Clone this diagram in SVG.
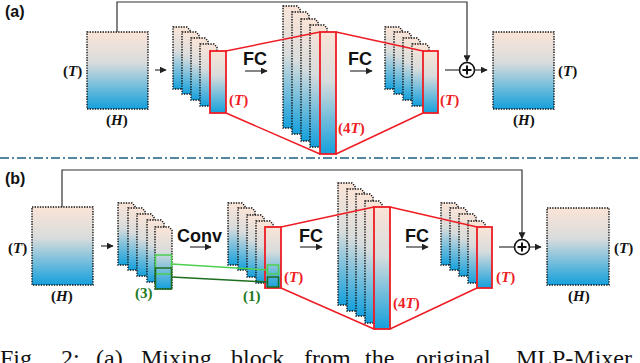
<svg xmlns="http://www.w3.org/2000/svg" width="640" height="363" viewBox="0 0 640 363">
<defs>
<linearGradient id="g" x1="0" y1="0" x2="0" y2="1">
<stop offset="0" stop-color="#fbe4d7"/>
<stop offset="0.4" stop-color="#d8dcdc"/>
<stop offset="1" stop-color="#14a0dc"/>
</linearGradient>
<marker id="ah" viewBox="0 0 10 10" refX="9" refY="5" markerWidth="7" markerHeight="7" markerUnits="userSpaceOnUse" orient="auto">
<path d="M0,0 L10,5 L0,10 Z" fill="#222"/>
</marker>
<path id="sh" d="M0,0 h14 l3,3 v59 h-17 Z"/>
<path id="shL" d="M0,0 h14 l3,3 v119 h-17 Z"/>
</defs>
<style>
.blk{fill:url(#g);stroke:#111;stroke-width:1.4;stroke-dasharray:1.4 1.2}
.red{fill:url(#g);stroke:#ee1c24;stroke-width:1.8}
.rl{fill:none;stroke:#ee1c24;stroke-width:1.5}
.ln{fill:none;stroke:#333;stroke-width:1.2}
.lbl{font-family:"Liberation Serif","Times New Roman",Times,serif;font-weight:bold;font-size:15px;fill:#111}
.rt{font-family:"Liberation Serif","Times New Roman",Times,serif;font-weight:bold;font-size:15px;fill:#ee1c24}
.gt{font-family:"Liberation Serif","Times New Roman",Times,serif;font-weight:bold;font-size:15px;fill:#1e7a1e}
.op{font-family:"Liberation Sans",Arial,sans-serif;font-weight:bold;font-size:18px;fill:#111}
.pl{font-family:"Liberation Sans",Arial,sans-serif;font-weight:bold;font-size:16px;fill:#111}
.cap{font-family:"Liberation Serif","Times New Roman",Times,serif;font-size:24px;fill:#111}
.ci{fill:#fff;stroke:#111;stroke-width:1.6}
.lg{fill:none;stroke:#4ccf4c;stroke-width:1.5}
.dg{fill:none;stroke:#1e6e1e;stroke-width:1.5}
</style>

<text class="pl" x="5" y="17">(a)</text>
<text class="pl" x="5" y="184">(b)</text>

<!-- separator -->
<line x1="0" y1="158" x2="640" y2="158" stroke="#1d5f80" stroke-width="1.5" stroke-dasharray="9 3 2 3"/>

<!-- Panel a -->
<g id="a-input">
<rect class="blk" x="87" y="32" width="61" height="77"/>
<text class="lbl" x="63" y="76">(<tspan font-style="italic">T</tspan>)</text>
<text class="lbl" x="106" y="125">(<tspan font-style="italic">H</tspan>)</text>
</g>
<g id="a-stack1">
<use href="#sh" class="blk" x="173" y="27"/>
<use href="#sh" class="blk" x="182" y="32"/>
<use href="#sh" class="blk" x="191" y="38"/>
<use href="#sh" class="blk" x="200" y="44"/>
<rect class="red" x="210" y="51" width="16" height="62"/>
<text class="rt" x="229" y="105">(<tspan font-style="italic">T</tspan>)</text>
</g>
<g id="a-stack2">
<use href="#shL" class="blk" x="283" y="6"/>
<use href="#shL" class="blk" x="292" y="12"/>
<use href="#shL" class="blk" x="301" y="19"/>
<use href="#shL" class="blk" x="310" y="25"/>
<rect class="red" x="320" y="32" width="16" height="122"/>
<text class="rt" x="338" y="133">(4<tspan font-style="italic">T</tspan>)</text>
</g>
<g id="a-stack3">
<use href="#sh" class="blk" x="385" y="27"/>
<use href="#sh" class="blk" x="394" y="32"/>
<use href="#sh" class="blk" x="403" y="38"/>
<use href="#sh" class="blk" x="412" y="44"/>
<rect class="red" x="423" y="51" width="15" height="62"/>
<text class="rt" x="440" y="105">(<tspan font-style="italic">T</tspan>)</text>
</g>
<g id="a-fc1"><text class="op" x="243" y="65">FC</text></g>
<g id="a-fc2"><text class="op" x="348" y="65">FC</text></g>
<g id="a-plus">
<circle class="ci" cx="467" cy="70" r="7.5"/>
<path d="M462.5,70 H471.5 M467,65.5 V74.5" stroke="#111" stroke-width="2"/>
</g>
<g id="a-output">
<rect class="blk" x="493" y="32" width="61" height="77"/>
<text class="lbl" x="558" y="76">(<tspan font-style="italic">T</tspan>)</text>
<text class="lbl" x="513" y="125">(<tspan font-style="italic">H</tspan>)</text>
</g>

<!-- Panel b -->
<g id="b-input">
<rect class="blk" x="32" y="207" width="61" height="78"/>
<text class="lbl" x="8" y="253">(<tspan font-style="italic">T</tspan>)</text>
<text class="lbl" x="51" y="301">(<tspan font-style="italic">H</tspan>)</text>
</g>
<g id="b-stack1">
<use href="#sh" class="blk" x="118" y="203"/>
<use href="#sh" class="blk" x="128" y="208"/>
<use href="#sh" class="blk" x="137" y="214"/>
<use href="#sh" class="blk" x="147" y="220"/>
<use href="#sh" class="blk" x="155" y="227"/>
<rect class="lg" x="155.5" y="255" width="16" height="19"/>
<rect class="dg" x="155.5" y="268" width="16" height="21"/>
<text class="gt" x="135" y="298">(3)</text>
</g>
<g id="b-conv"><text class="op" x="177" y="242">Conv</text></g>
<g id="b-stack2">
<use href="#sh" class="blk" x="228" y="203"/>
<use href="#sh" class="blk" x="238" y="208"/>
<use href="#sh" class="blk" x="247" y="215"/>
<use href="#sh" class="blk" x="256" y="221"/>
<rect class="red" x="265" y="227" width="16" height="61"/>
<rect class="lg" x="267.5" y="265" width="11" height="9"/>
<rect class="dg" x="267.5" y="277" width="11" height="10"/>
<text class="gt" x="243" y="301">(1)</text>
<text class="rt" x="284" y="282">(<tspan font-style="italic">T</tspan>)</text>
</g>
<g id="b-stack3">
<use href="#shL" class="blk" x="338" y="183"/>
<use href="#shL" class="blk" x="347" y="189"/>
<use href="#shL" class="blk" x="356" y="194"/>
<use href="#shL" class="blk" x="365" y="201"/>
<rect class="red" x="374" y="207" width="16" height="122"/>
<text class="rt" x="393" y="308">(4<tspan font-style="italic">T</tspan>)</text>
</g>
<g id="b-stack4">
<use href="#sh" class="blk" x="441" y="203"/>
<use href="#sh" class="blk" x="450" y="208"/>
<use href="#sh" class="blk" x="459" y="214"/>
<use href="#sh" class="blk" x="468" y="221"/>
<rect class="red" x="477" y="227" width="15" height="61"/>
<text class="rt" x="496" y="282">(<tspan font-style="italic">T</tspan>)</text>
</g>
<g id="b-fc1"><text class="op" x="299" y="242">FC</text></g>
<g id="b-fc2"><text class="op" x="405" y="242">FC</text></g>
<g id="b-plus">
<circle class="ci" cx="522" cy="247" r="7.5"/>
<path d="M517.5,247 H526.5 M522,242.5 V251.5" stroke="#111" stroke-width="2"/>
</g>
<g id="b-output">
<rect class="blk" x="547" y="208" width="62" height="77"/>
<text class="lbl" x="614" y="253">(<tspan font-style="italic">T</tspan>)</text>
<text class="lbl" x="568" y="301">(<tspan font-style="italic">H</tspan>)</text>
</g>

<g id="connectors">
<!-- a -->
<path class="ln" d="M117,32 V2 H467 V61.5" marker-end="url(#ah)"/>
<line class="ln" x1="155" y1="70" x2="166" y2="70" marker-end="url(#ah)"/>
<line class="ln" x1="245" y1="71" x2="267" y2="71" marker-end="url(#ah)"/>
<line class="ln" x1="350" y1="71" x2="372" y2="71" marker-end="url(#ah)"/>
<line class="ln" x1="445" y1="70" x2="459.5" y2="70"/>
<line class="ln" x1="474.5" y1="70" x2="487" y2="70" marker-end="url(#ah)"/>
<path class="rl" d="M226,51 L320,32 M226,113 L320,154 M336,32 L423,51 M336,154 L423,113"/>
<!-- b -->
<path class="ln" d="M62,207 V170 H522 V238.5" marker-end="url(#ah)"/>
<line class="ln" x1="101" y1="246" x2="113" y2="246" marker-end="url(#ah)"/>
<line class="ln" x1="190" y1="247" x2="211" y2="247" marker-end="url(#ah)"/>
<line class="ln" x1="300" y1="247" x2="322" y2="247" marker-end="url(#ah)"/>
<line class="ln" x1="406" y1="247" x2="428" y2="247" marker-end="url(#ah)"/>
<line class="ln" x1="499" y1="247" x2="514.5" y2="247"/>
<line class="ln" x1="529.5" y1="247" x2="541" y2="247" marker-end="url(#ah)"/>
<path class="rl" d="M281,227 L374,207 M281,288 L374,329 M390,207 L477,227 M390,329 L477,288"/>
<line class="lg" x1="171.5" y1="264" x2="267.5" y2="270"/>
<line class="dg" x1="171.5" y1="277" x2="267.5" y2="282"/>
</g>

<g id="caption">
<text class="cap" x="0" y="366">Fig.</text>
<text class="cap" x="61" y="366">2:</text>
<text class="cap" x="96" y="366">(a)</text>
<text class="cap" x="141" y="366">Mixing</text>
<text class="cap" x="231" y="366">block</text>
<text class="cap" x="304" y="366">from</text>
<text class="cap" x="365" y="366">the</text>
<text class="cap" x="416" y="366">original</text>
<text class="cap" x="516" y="366">MLP-Mixer</text>
</g>
</svg>
